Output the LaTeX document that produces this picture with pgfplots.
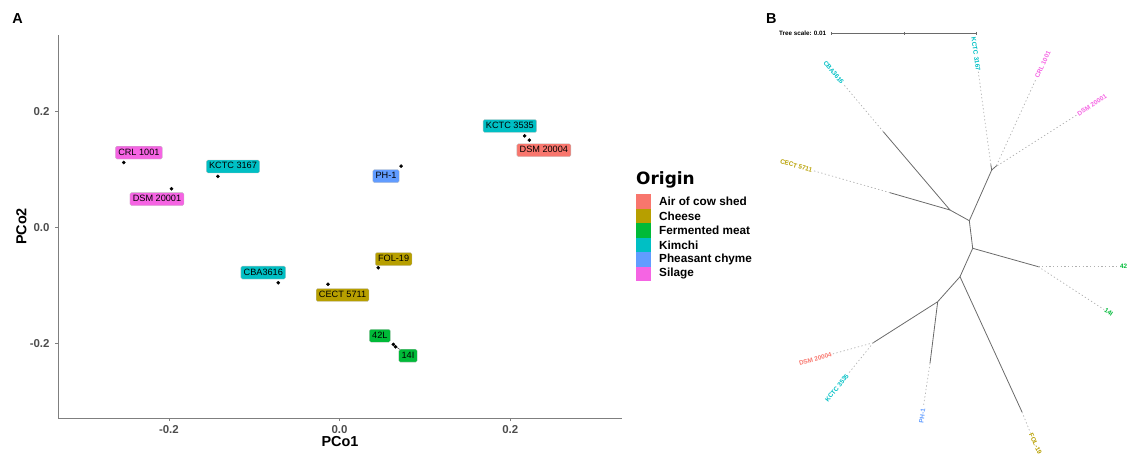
\documentclass[border=0pt]{standalone}
\usepackage{fontspec}
\setmainfont{Liberation Sans}
\newfontfamily\dejavu{DejaVu Sans}
\usepackage{pgfplots}
\pgfplotsset{compat=1.18}
\definecolor{cAir}{HTML}{F8766D}
\definecolor{cChe}{HTML}{B79F00}
\definecolor{cFer}{HTML}{00BA38}
\definecolor{cKim}{HTML}{00BFC4}
\definecolor{cPhe}{HTML}{619CFF}
\definecolor{cSil}{HTML}{F564E3}
\definecolor{axgray}{HTML}{7F7F7F}
\definecolor{tickgray}{HTML}{4D4D4D}
\definecolor{brgray}{HTML}{6A6A6A}
\definecolor{dsgray}{HTML}{B0B0B0}
\pgfplotsset{
  lab/.style={only marks, mark=none, nodes near coords, point meta=explicit symbolic,
    nodes near coords style={anchor=center, fill=#1, draw=white!75!black, line width=0.3bp,
      rounded corners=1.5bp, inner xsep=2.8bp, inner ysep=1.9bp, text height=7bp, text depth=2.1bp,
      font=\fontsize{9.2}{10}\selectfont, text=black}},
  br/.style={draw=brgray, line width=0.8bp},
  ds/.style={draw=dsgray, line width=0.7bp, dash pattern=on 1.3bp off 2.4bp},
}
\tikzset{tl/.style={font=\bfseries\fontsize{6.4}{7}\selectfont, text=#1, inner sep=0.6bp}}
\begin{document}
\begin{tikzpicture}
\path[use as bounding box] (0,0) rectangle (1127bp,455bp);
% ---------------- Panel A ----------------
\begin{axis}[
  at={(58bp,37bp)}, anchor=south west,
  scale only axis, width=564bp, height=383bp,
  xmin=-0.33, xmax=0.331, ymin=-0.329, ymax=0.332,
  axis x line*=bottom, axis y line*=left,
  axis line style={draw=axgray, line width=0.6bp, -},
  tick style={draw=axgray, line width=0.6bp},
  tick align=outside, major tick length=3bp,
  xtick={-0.2,0,0.2}, xticklabels={-0.2,0.0,0.2},
  ytick={-0.2,0,0.2}, yticklabels={-0.2,0.0,0.2},
  ticklabel style={font=\bfseries\fontsize{11.5}{12}\selectfont, text=tickgray},
  xticklabel style={anchor=north, inner sep=0pt, yshift=-4.7bp},
  yticklabel style={anchor=east, inner sep=0pt, xshift=-5.3bp},
  xlabel={PCo1}, ylabel={PCo2},
  xlabel style={at={(axis description cs:0.5,0)}, anchor=north, inner sep=0pt, yshift=-18bp,
    font=\bfseries\fontsize{14.5}{15}\selectfont},
  ylabel style={at={([xshift=-31.3bp]axis description cs:0,0.5)}, anchor=south, inner sep=0pt,
    font=\bfseries\fontsize{14.5}{15}\selectfont},
  clip=false,
]
% segment from point to 14I label
\addplot[draw=black!75, line width=0.5bp] coordinates {(0.0655,-0.2055) (0.0735,-0.2135)};
% points
\addplot[only marks, mark=*, mark size=1.6bp, black] table {
x y
-0.253 0.112
-0.197 0.0666
-0.1426 0.088
0.072 0.1057
0.2169 0.158
0.2224 0.1505
0.0454 -0.0697
-0.0719 -0.0955
-0.0136 -0.0983
0.0630 -0.2020
0.0655 -0.2060
};
% labels
\addplot[lab=cAir] table[col sep=comma, row sep=\\, meta=lab] {x,y,lab\\0.2394,0.133,DSM 20004\\};
\addplot[lab=cChe] table[col sep=comma, row sep=\\, meta=lab] {x,y,lab\\0.0633,-0.0548,FOL-19\\0.0035,-0.1167,CECT 5711\\};
\addplot[lab=cFer] table[col sep=comma, row sep=\\, meta=lab] {x,y,lab\\0.0472,-0.1870,42L\\0.0802,-0.2214,14I\\};
\addplot[lab=cKim] table[col sep=comma, row sep=\\, meta=lab] {x,y,lab\\0.1996,0.175,KCTC 3535\\-0.1249,0.105,KCTC 3167\\-0.0894,-0.0780,CBA3616\\};
\addplot[lab=cPhe] table[col sep=comma, row sep=\\, meta=lab] {x,y,lab\\0.0544,0.0884,PH-1\\};
\addplot[lab=cSil] table[col sep=comma, row sep=\\, meta=lab] {x,y,lab\\-0.2352,0.129,CRL 1001\\-0.214,0.0488,DSM 20001\\};
\end{axis}
% ---------------- Panel B (tree) ----------------
\begin{axis}[
  at={(0,0)}, anchor=south west,
  scale only axis, width=1127bp, height=455bp,
  xmin=0, xmax=1127, ymin=0, ymax=455, y dir=reverse,
  hide axis, clip=false,
]
% scale bar
\addplot[draw=brgray, line width=0.6bp] coordinates {(831.7,33.3) (976.7,33.3)};
\addplot[draw=brgray, line width=0.6bp] coordinates {(831.7,31.8) (831.7,34.8)};
\addplot[draw=brgray, line width=0.6bp] coordinates {(904.2,31.8) (904.2,34.8)};
\addplot[draw=brgray, line width=0.6bp] coordinates {(976.7,31.8) (976.7,34.8)};
% solid branches
\addplot[br] coordinates {(950,210) (883.3,131.7)};
\addplot[br] coordinates {(950,210) (890,192.7)};
\addplot[br] coordinates {(950,210) (969.3,220.7)};
\addplot[br] coordinates {(969.3,220.7) (991.7,170)};
\addplot[br] coordinates {(991.7,170) (990.8,164.5)};
\addplot[br] coordinates {(991.7,170) (996.8,165.5)};
\addplot[br] coordinates {(969.3,220.7) (972.7,248.3)};
\addplot[br] coordinates {(972.7,248.3) (1038.3,266.7)};
\addplot[br] coordinates {(972.7,248.3) (960,276.7)};
\addplot[br] coordinates {(960,276.7) (937.7,301.7)};
\addplot[br] coordinates {(937.7,301.7) (873.3,342.7)};
\addplot[br] coordinates {(937.7,301.7) (930,363.3)};
\addplot[br] coordinates {(960,276.7) (1022,412)};
% dashed leaf extensions
\addplot[ds] coordinates {(990.8,164.5) (978.3,71.7)};
\addplot[ds] coordinates {(996.5,165.5) (1036,79)};
\addplot[ds] coordinates {(997.3,165.7) (1076.7,115)};
\addplot[ds] coordinates {(883.3,131.7) (843.3,84)};
\addplot[ds] coordinates {(890,192.7) (813.3,170.7)};
\addplot[ds] coordinates {(1038.3,266.7) (1119,266.7)};
\addplot[ds] coordinates {(1038.3,266.7) (1104,309.5)};
\addplot[ds] coordinates {(873.3,342.7) (832.5,354)};
\addplot[ds] coordinates {(873.3,342.7) (848,374)};
\addplot[ds] coordinates {(930,363.3) (923.5,406)};
\addplot[ds] coordinates {(1022,412) (1030.5,433)};
% leaf labels
\node[tl=cKim, anchor=east, rotate=-82] at (axis cs:978.3,71.7) {KCTC 3167};
\node[tl=cSil, anchor=west, rotate=65] at (axis cs:1036.3,78.5) {CRL 1001};
\node[tl=cSil, anchor=west, rotate=33] at (axis cs:1077.2,114.7) {DSM 20001};
\node[tl=cKim, anchor=east, rotate=-50] at (axis cs:843.2,83.8) {CBA3616};
\node[tl=cChe, anchor=east, rotate=-16] at (axis cs:812.8,170.5) {CECT 5711};
\node[tl=cFer, anchor=west, rotate=0] at (axis cs:1119.3,266.7) {42L};
\node[tl=cFer, anchor=west, rotate=-33] at (axis cs:1104.3,309.7) {14I};
\node[tl=cAir, anchor=east, rotate=16] at (axis cs:832.3,354.1) {DSM 20004};
\node[tl=cKim, anchor=east, rotate=51] at (axis cs:848,374.3) {KCTC 3535};
\node[tl=cPhe, anchor=east, rotate=82] at (axis cs:923.4,408) {PH-1};
\node[tl=cChe, anchor=west, rotate=-65] at (axis cs:1030.6,433.2) {FOL-19};
\node[font=\bfseries\fontsize{6.3}{7}\selectfont, anchor=west, inner sep=0pt] at (axis cs:779,33.3) {Tree scale: 0.01};
\end{axis}
% ---------------- legend and panel letters ----------------
\begin{scope}[x=1bp, y=-1bp, shift={(0,455bp)}]
\node[anchor=base west, inner sep=0pt, font=\bfseries\fontsize{14.5}{15}\selectfont] at (12.3,24) {A};
\node[anchor=base west, inner sep=0pt, font=\bfseries\fontsize{14.5}{15}\selectfont] at (766,24) {B};
\node[anchor=base west, inner sep=0pt, font=\dejavu\bfseries\fontsize{17}{18}\selectfont] at (636,184.7) {Origin};
\foreach \c/\t [count=\i from 0] in {cAir/Air of cow shed, cChe/Cheese, cFer/Fermented meat, cKim/Kimchi, cPhe/Pheasant chyme, cSil/Silage} {
  \fill[\c] (636,{194.3+14.45*\i}) rectangle (650.7,{194.3+14.45*(\i+1)});
  \node[anchor=west, inner sep=0pt, font=\bfseries\fontsize{11.8}{12}\selectfont] at (659,{194.3+14.45*\i+7.2}) {\t};
}
\end{scope}
\end{tikzpicture}
\end{document}
